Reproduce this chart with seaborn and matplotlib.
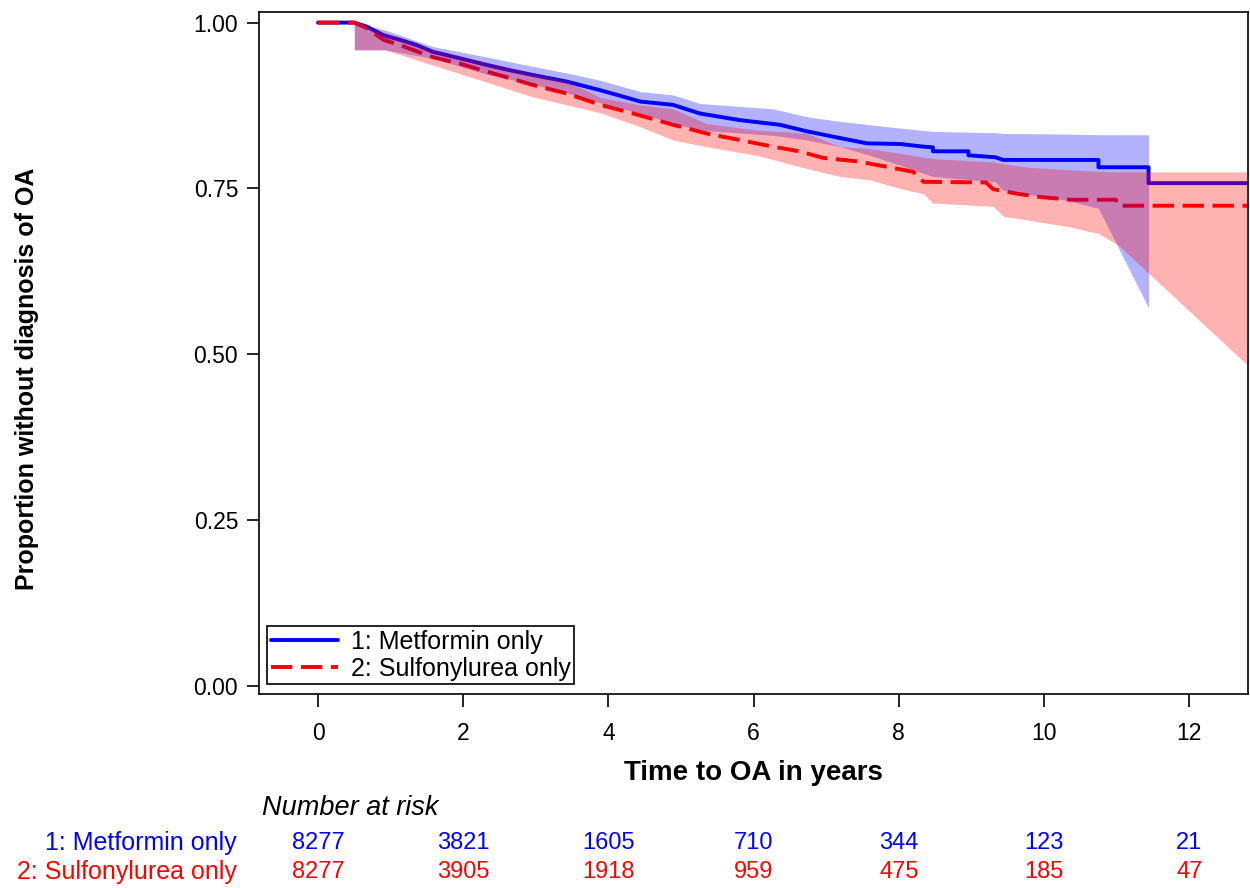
import pandas as pd
import matplotlib
matplotlib.use("Agg")
import matplotlib.pyplot as plt
import matplotlib.transforms as mtransforms
import seaborn as sns

groups = ["1: Metformin only", "2: Sulfonylurea only"]
colors = ["#0000FF", "#FF0000"]

# Kaplan-Meier curves (time in years, proportion without OA);
# repeated times mark the larger visible drops
met_t = [0.0, 0.50, 0.67, 0.90, 1.13, 1.36, 1.58, 1.96, 2.33, 2.65, 2.96, 3.43,
         3.89, 4.12, 4.44, 4.89, 5.26, 5.81, 6.36, 6.74, 7.19, 7.56, 8.02, 8.34,
         8.47, 8.47, 8.96, 8.96, 9.33, 9.44, 10.75, 10.75, 11.44, 11.44, 12.8]
met_s = [1.000, 1.000, 0.994, 0.981, 0.974, 0.966, 0.956, 0.946, 0.936, 0.928,
         0.921, 0.911, 0.898, 0.891, 0.881, 0.876, 0.863, 0.853, 0.846, 0.836,
         0.826, 0.818, 0.817, 0.813, 0.812, 0.806, 0.806, 0.800, 0.797, 0.793,
         0.793, 0.782, 0.782, 0.758, 0.758]

sul_t = [0.0, 0.50, 0.67, 0.90, 1.13, 1.58, 1.96, 2.33, 2.65, 2.96, 3.43, 3.89,
         4.34, 4.89, 5.35, 5.81, 6.27, 6.63, 6.96, 7.42, 7.92, 8.20, 8.34, 9.20,
         9.30, 9.63, 9.95, 10.36, 10.99, 11.02, 12.8]
sul_s = [1.000, 1.000, 0.992, 0.974, 0.966, 0.948, 0.938, 0.926, 0.916, 0.906,
         0.893, 0.876, 0.863, 0.846, 0.833, 0.823, 0.813, 0.806, 0.796, 0.791,
         0.781, 0.775, 0.760, 0.759, 0.749, 0.742, 0.737, 0.733, 0.733, 0.724,
         0.724]

# confidence bands
met_band_t = [0.50, 0.92, 1.58, 2.33, 2.96, 3.43, 3.89, 4.44, 4.89, 5.26, 6.27,
              6.74, 7.19, 7.60, 8.02, 8.47, 9.33, 9.44, 10.32, 10.75, 11.44]
met_lo = [0.959, 0.959, 0.946, 0.922, 0.907, 0.894, 0.879, 0.863, 0.848, 0.838,
          0.830, 0.823, 0.813, 0.800, 0.785, 0.768, 0.760, 0.747, 0.732, 0.720,
          0.570]
met_hi = [1.000, 0.989, 0.964, 0.948, 0.934, 0.924, 0.913, 0.896, 0.891, 0.878,
          0.870, 0.858, 0.851, 0.846, 0.841, 0.836, 0.834, 0.833, 0.832, 0.831,
          0.831]

sul_band_t = [0.50, 0.92, 1.58, 2.33, 2.96, 3.43, 3.89, 4.44, 4.89, 5.35, 6.04,
              6.74, 7.19, 7.60, 8.02, 8.34, 8.47, 9.30, 9.44, 9.80, 10.36,
              10.75, 11.02, 12.8]
sul_lo = [0.959, 0.959, 0.936, 0.910, 0.888, 0.876, 0.864, 0.843, 0.823, 0.813,
          0.800, 0.780, 0.768, 0.763, 0.750, 0.742, 0.728, 0.723, 0.708, 0.702,
          0.692, 0.682, 0.665, 0.484]
sul_hi = [1.000, 0.985, 0.960, 0.940, 0.924, 0.912, 0.887, 0.876, 0.870, 0.848,
          0.838, 0.833, 0.813, 0.810, 0.803, 0.797, 0.795, 0.790, 0.787, 0.782,
          0.778, 0.776, 0.775, 0.775]

risk_times = [0, 2, 4, 6, 8, 10, 12]
met_risk = [8277, 3821, 1605, 710, 344, 123, 21]
sul_risk = [8277, 3905, 1918, 959, 475, 185, 47]

sns.set_theme(style="ticks")
plt.rcParams["font.family"] = ["Liberation Sans", "DejaVu Sans"]
plt.rcParams.update({"text.color": "black", "axes.labelcolor": "black",
                     "xtick.color": "black", "ytick.color": "black",
                     "axes.edgecolor": "black"})

df = pd.concat([
    pd.DataFrame({"time": met_t, "surv": met_s, "group": groups[0]}),
    pd.DataFrame({"time": sul_t, "surv": sul_s, "group": groups[1]}),
])

fig = plt.figure(figsize=(12.5, 8.88), dpi=100)
ax = fig.add_axes([0.2072, 0.2185, 0.7912, 0.768])

sns.lineplot(data=df, x="time", y="surv", hue="group", style="group",
             palette=dict(zip(groups, colors)),
             dashes={groups[0]: "", groups[1]: (5.5, 2.2)},
             sort=False, estimator=None, errorbar=None, lw=2.8, ax=ax, zorder=2)

# bands drawn over the lines, as in the original
ax.fill_between(met_band_t, met_lo, met_hi, color=colors[0], alpha=0.3,
                lw=0, zorder=3)
ax.fill_between(sul_band_t, sul_lo, sul_hi, color=colors[1], alpha=0.3,
                lw=0, zorder=3)

ax.set_xlim(-0.813, 12.81)
ax.set_ylim(-0.012, 1.016)
ax.set_xticks(range(0, 13, 2))
ax.set_yticks([0, 0.25, 0.5, 0.75, 1.0])
ax.set_yticklabels([f"{v:.2f}" for v in [0, 0.25, 0.5, 0.75, 1.0]])
ax.tick_params(axis="both", labelsize=16.5, length=9, width=1.2,
               color="black", labelcolor="black")
ax.tick_params(axis="x", pad=11)
ax.tick_params(axis="y", pad=6)
for sp in ax.spines.values():
    sp.set_visible(True)
    sp.set_color("black")
    sp.set_linewidth(1.2)
ax.set_xlabel("")
ax.set_ylabel("")

handles, labels = ax.get_legend_handles_labels()
leg = ax.legend(handles, labels, loc="lower left", bbox_to_anchor=(0.008, 0.014),
                fontsize=18, frameon=True, fancybox=False, framealpha=1,
                edgecolor="black", handlelength=2.7, handletextpad=0.5,
                labelspacing=0.1, borderpad=0.15, borderaxespad=0)
leg.get_frame().set_linewidth(1.2)
for txt in leg.get_texts():
    txt.set_color("black")

fig.text(0.6024, 0.1295, "Time to OA in years", ha="center", va="center",
         fontsize=20, fontweight="bold")
fig.text(0.0216, 0.573, "Proportion without diagnosis of OA", ha="center",
         va="center", rotation=90, fontsize=18, fontweight="bold")

# number at risk table
fig.text(0.2096, 0.0901, "Number at risk", ha="left", va="center",
         fontsize=19.5, style="italic")
trans = mtransforms.blended_transform_factory(ax.transData, fig.transFigure)
for name, col, risk, yy in [(groups[0], colors[0], met_risk, 0.0507),
                            (groups[1], colors[1], sul_risk, 0.018)]:
    fig.text(0.1896, yy, name, ha="right", va="center", fontsize=18, color=col)
    for t, n in zip(risk_times, risk):
        ax.text(t, yy, str(n), transform=trans, ha="center", va="center",
                fontsize=17, color=col)

fig.savefig("out.png", dpi=100)
